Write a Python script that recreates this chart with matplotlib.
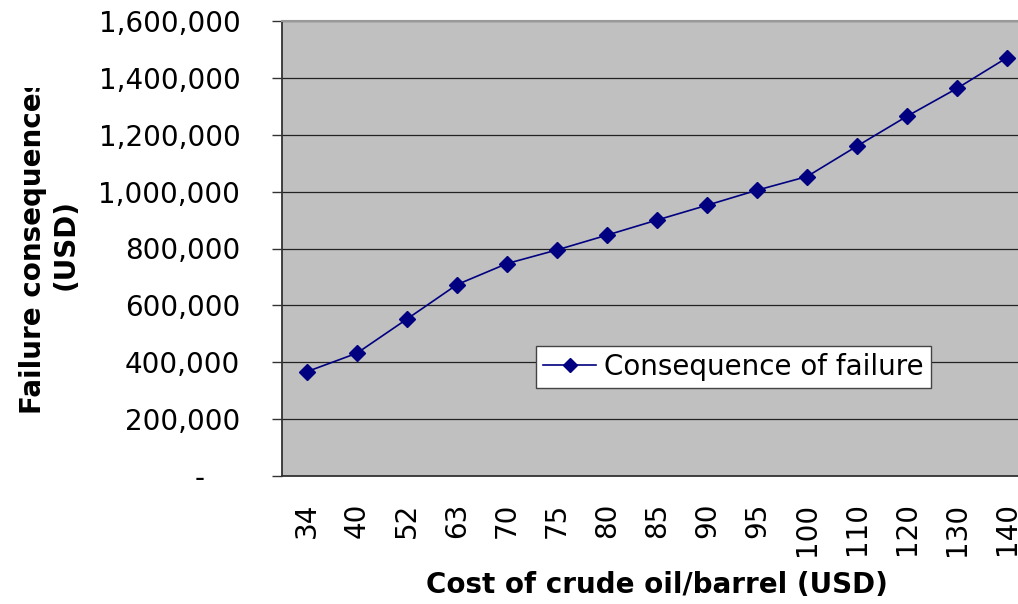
import matplotlib
matplotlib.use("Agg")
import matplotlib.pyplot as plt
from matplotlib.transforms import Bbox, TransformedBbox

# Dados
precos = ["34", "40", "52", "63", "70", "75", "80", "85", "90", "95",
          "100", "110", "120", "130", "140"]
consequencia = [367000, 432000, 552000, 673000, 747000, 795000, 847000,
                900000, 952000, 1005000, 1053000, 1160000, 1265000,
                1363000, 1471000]
y_ticks = [0, 200000, 400000, 600000, 800000, 1000000, 1200000, 1400000, 1600000]

plt.rcParams['font.family'] = 'DejaVu Sans'

fig = plt.figure(figsize=(10.18, 6.04), dpi=100)
# eixo se estende além da borda direita (como na imagem original, cortada)
ax = fig.add_axes([282 / 1018, 128 / 604, 750 / 1018, 455 / 604])
ax.set_facecolor('#C0C0C0')

x = list(range(len(precos)))
ax.plot(x, consequencia, color='#000080', linewidth=1.2, marker='D',
        markersize=8.5, label='Consequence of failure', zorder=3)

ax.set_xlim(-0.5, len(precos) - 0.5)
ax.set_ylim(0, 1600000)
ax.set_xticks(x)
ax.set_xticklabels(precos, rotation=90, fontsize=20)
ax.set_yticks(y_ticks)
# formato contábil: zero aparece como "-"
ax.set_yticklabels([f"{v:,}" if v else "-    " for v in y_ticks], fontsize=20)

ax.tick_params(axis='x', length=0, pad=19)
ax.tick_params(axis='y', length=7, width=1, direction='out', pad=23, color='#333333')

ax.yaxis.grid(True, color='#222222', linewidth=0.9)
ax.set_axisbelow(True)

for lado in ['left', 'bottom']:
    ax.spines[lado].set_color('#333333')
    ax.spines[lado].set_linewidth(1.3)
ax.spines['top'].set_color('#999999')
ax.spines['top'].set_linewidth(1.5)
ax.spines['right'].set_visible(False)

# Rótulos dos eixos
ax.set_xlabel('Cost of crude oil/barrel (USD)', fontsize=20, fontweight='bold', va='center')
ax.xaxis.set_label_coords(0.5, -0.24)
ax.set_ylabel('Failure consequences\n(USD)', fontsize=20, fontweight='bold',
              va='center', ha='center', multialignment='center')
ax.yaxis.set_label_coords(-0.3107, 0.5077)
# o rótulo original aparece cortado no topo
clip = TransformedBbox(Bbox.from_extents(0, 0, 0.2, 516 / 604), fig.transFigure)
ax.yaxis.label.set_clip_box(clip)
ax.yaxis.label.set_clip_on(True)

leg = ax.legend(loc='center', bbox_to_anchor=(0.602, 0.2396), fontsize=20,
                frameon=True, fancybox=False, framealpha=1, borderpad=0.25,
                handlelength=1.9, handletextpad=0.3, borderaxespad=0,
                markerscale=0.8)
leg.get_frame().set_edgecolor('#444444')
leg.get_frame().set_linewidth(1.0)
leg.get_frame().set_facecolor('white')

fig.savefig('out.png', dpi=100)
